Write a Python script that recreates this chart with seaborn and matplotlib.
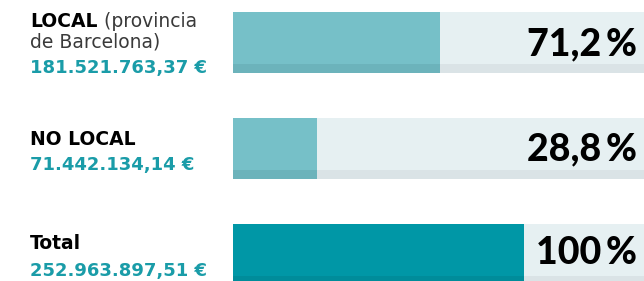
import matplotlib
matplotlib.use("Agg")
import matplotlib.pyplot as plt
import seaborn as sns
import pandas as pd

categorias = ["LOCAL", "NO LOCAL", "Total"]
subtitulos = [" (provincia", "", ""]
segunda_linea = ["de Barcelona)", "", ""]
importes = ["181.521.763,37 €", "71.442.134,14 €", "252.963.897,51 €"]
porcentajes = [71.2, 28.8, 100.0]
etiquetas_pct = ["71,2\u2009%", "28,8\u2009%", "100\u2009%"]

TEAL_CLARO = "#76C0C8"
TEAL = "#0097A6"
FONDO = "#E6F0F2"
FONDO_FRANJA = "#DAE3E6"
FRANJA_CLARA = "#6CB3BB"
FRANJA_OSCURA = "#008C9A"
TEXTO_TEAL = "#1A9CA8"

sns.set_style("white")
plt.rcParams["font.family"] = "Lato"
IZQ = "DejaVu Sans"

W, H = 644, 281
fig = plt.figure(figsize=(W / 100, H / 100), dpi=100)
ax = fig.add_axes([233 / W, 0, 411 / W, 1])

XMAX = 141.2
ALTO = 0.575
df = pd.DataFrame({"cat": categorias, "pct": porcentajes})

# pista de fondo
ax.barh(range(len(categorias)), [XMAX] * len(categorias), height=ALTO,
        color=FONDO, linewidth=0)
ax.barh([i + ALTO / 2 - 0.0425 for i in range(len(categorias))],
        [XMAX] * len(categorias), height=0.085, color=FONDO_FRANJA, linewidth=0)

sns.barplot(data=df, x="pct", y="cat", hue="cat", orient="h", ax=ax,
            palette=[TEAL_CLARO, TEAL_CLARO, TEAL], width=ALTO,
            legend=False, saturation=1, linewidth=0)
ax.barh([i + ALTO / 2 - 0.0425 for i in range(len(categorias))], porcentajes,
        height=0.085, color=[FRANJA_CLARA, FRANJA_CLARA, FRANJA_OSCURA], linewidth=0)

ax.set_xlim(0, XMAX)
ax.set_ylim(2.25, -0.401)
ax.axis("off")

def fy(px):
    return 1 - px / H

# porcentajes
base_pct = [55, 160, 264]
for i, lab in enumerate(etiquetas_pct):
    fig.text(637 / W, fy(base_pct[i]), lab, fontsize=27, fontweight=900,
             color="black", va="baseline", ha="right", family="Lato")

# etiquetas izquierda
base_titulo = [27, 145, 249]
base_importe = [73, 170, 276]
for i, cat in enumerate(categorias):
    t = fig.text(30 / W, fy(base_titulo[i]), cat, fontsize=13.5, fontweight="bold",
                 color="black", va="baseline", ha="left", family=IZQ)
    if subtitulos[i]:
        ax.annotate(subtitulos[i], xy=(1, 0), xycoords=t, va="bottom", ha="left",
                    fontsize=13.5, color="#3a3a3a", family=IZQ)
    if segunda_linea[i]:
        fig.text(30 / W, fy(47), segunda_linea[i], fontsize=13.5, color="#3a3a3a",
                 va="baseline", ha="left", family=IZQ)
    fig.text(30 / W, fy(base_importe[i]), importes[i], fontsize=13,
             fontweight="bold", color=TEXTO_TEAL, va="baseline", ha="left", family=IZQ)

fig.savefig("out.png", dpi=100)
